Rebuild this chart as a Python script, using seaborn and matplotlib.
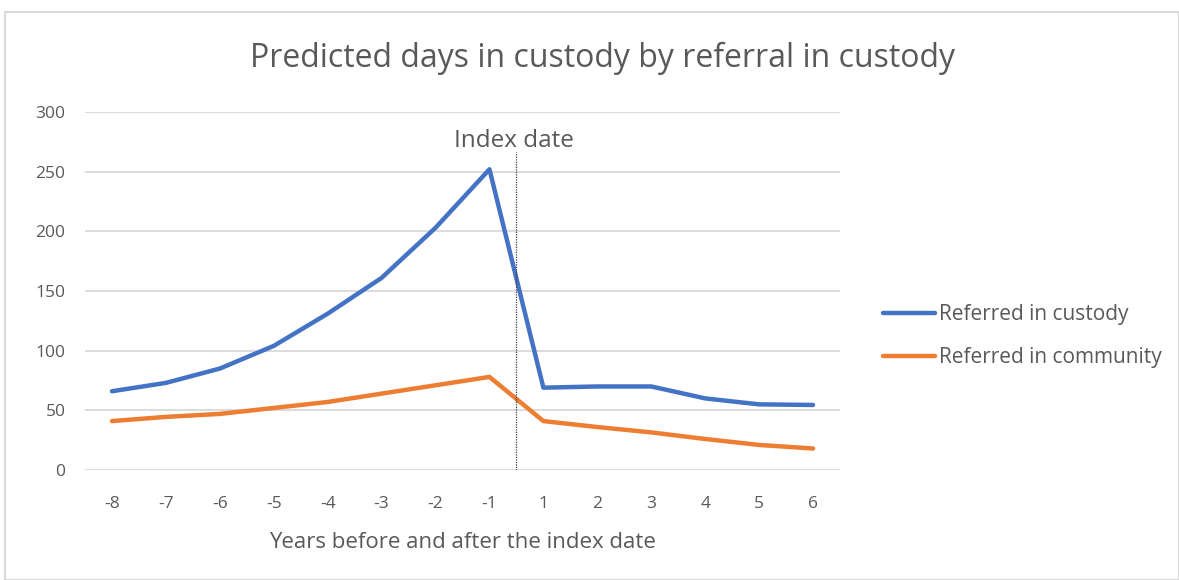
import matplotlib
matplotlib.use("Agg")
import matplotlib.pyplot as plt
import seaborn as sns
import pandas as pd
from matplotlib.patches import Rectangle
from matplotlib.lines import Line2D

years = ["-8", "-7", "-6", "-5", "-4", "-3", "-2", "-1", "1", "2", "3", "4", "5", "6"]
custody = [66, 73, 85, 104, 131, 161, 203, 252, 69, 70, 70, 60, 55, 54.5]
community = [41, 44.5, 47, 52, 57, 64, 71, 78, 41, 36, 31.5, 26, 21, 18]
series_names = ["Referred in custody", "Referred in community"]
colors = ["#4472C4", "#ED7D31"]

pos = list(range(len(years)))
df = pd.DataFrame({
    "pos": pos * 2,
    "value": custody + community,
    "series": [series_names[0]] * len(years) + [series_names[1]] * len(years),
})

sns.set_theme(style="white")
plt.rcParams['font.family'] = ['Open Sans', 'DejaVu Sans']
txt = "#595959"

fig = plt.figure(figsize=(11.79, 5.8), dpi=100)
ax = fig.add_axes([85 / 1179, 1 - 470 / 580, 755 / 1179, 358 / 580])

sns.lineplot(data=df, x="pos", y="value", hue="series", palette=colors,
             linewidth=3.2, ax=ax, legend=False, sort=False)
for ln in ax.lines:
    ln.set_solid_capstyle("round")
    ln.set_solid_joinstyle("round")

ax.set_xlim(-0.5, len(years) - 0.5)
ax.set_ylim(0, 300)
ax.set_yticks(range(0, 301, 50))
ax.set_xticks(pos)
ax.set_xticklabels(years)
ax.yaxis.grid(True, color="#d9d9d9", linewidth=1.3)
ax.xaxis.grid(False)
ax.set_axisbelow(True)
for s in ax.spines.values():
    s.set_visible(False)
ax.tick_params(axis="both", length=0, labelsize=12.5, colors=txt)
ax.tick_params(axis="y", pad=14)
ax.tick_params(axis="x", pad=19)
ax.set_xlabel("Years before and after the index date", fontsize=16, color=txt, labelpad=14)
ax.set_ylabel("")

# Index date marker between -1 and 1
ax.axvline(7.5, ymin=0, ymax=(470 - 152) / 358, color="#404040", linestyle=(0, (1, 1)), linewidth=0.9)
ax.text(7.45, 276, "Index date", ha="center", va="center", fontsize=17.5, color=txt)

fig.text(602 / 1179, 1 - 58 / 580, "Predicted days in custody by referral in custody",
         ha="center", va="center", fontsize=23, color=txt)

handles = [Line2D([0], [0], color=c, linewidth=3.2, solid_capstyle="round") for c in colors]
fig.legend(handles, series_names, loc="center left", bbox_to_anchor=(864 / 1179, 1 - 336 / 580),
           frameon=False, fontsize=15, labelcolor=txt, handlelength=2.5, handletextpad=0.2,
           labelspacing=1.05)

fig.patches.append(Rectangle((5 / 1179, 0), 1 - 5 / 1179, 1 - 12 / 580, transform=fig.transFigure,
                             fill=False, edgecolor="#d9d9d9", linewidth=1.5))

fig.savefig("out.png", dpi=100)
